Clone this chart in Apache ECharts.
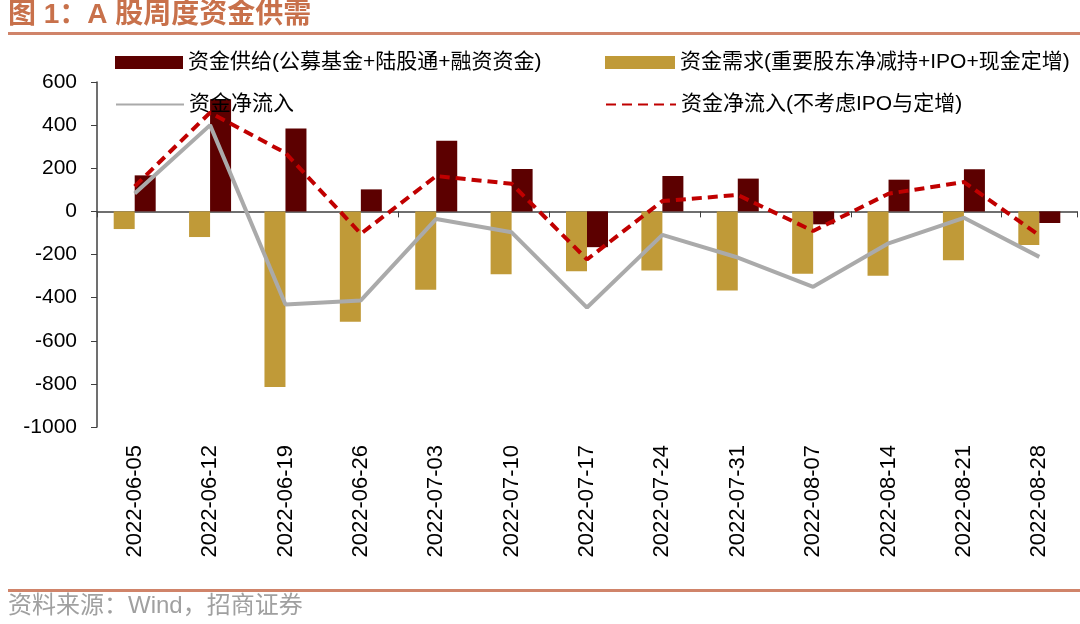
<!DOCTYPE html>
<html lang="zh">
<head>
    <meta charset="UTF-8">
    <title>A股周度资金供需</title>
    <script src="https://cdn.jsdelivr.net/npm/echarts@6/dist/echarts.min.js"></script>
    <style>
        html, body { margin: 0; padding: 0; background: #fff; }
    </style>
</head>
<body>
    <div id="main" style="width: 1080px;height:624px;"></div>
    <script type="text/javascript">
        // 数据（从原图读取，单位：亿元）
        var dates = ['2022-06-05', '2022-06-12', '2022-06-19', '2022-06-26', '2022-07-03', '2022-07-10', '2022-07-17',
            '2022-07-24', '2022-07-31', '2022-08-07', '2022-08-14', '2022-08-21', '2022-08-28'];
        var supply = [167, 520, 384, 102, 328, 196, -166, 164, 152, -60, 147, 195, -54];
        var demand = [-82, -119, -815, -512, -363, -292, -278, -274, -367, -289, -298, -227, -156];
        var netFlow = [83, 400, -432, -413, -35, -97, -446, -109, -214, -350, -148, -30, -211];
        var netFlowExcl = [116, 458, 271, -104, 164, 128, -223, 48, 76, -91, 82, 136, -111];

        var names = ['资金供给(公募基金+陆股通+融资资金)', '资金需求(重要股东净减持+IPO+现金定增)',
            '资金净流入', '资金净流入(不考虑IPO与定增)'];

        var FONT = '"Liberation Sans", "Noto Sans CJK SC", sans-serif';
        var legendText = { color: '#000', fontSize: 21, fontFamily: FONT };

        var myChart = echarts.init(document.getElementById('main'));

        var option = {
            backgroundColor: '#fff',
            animation: false,
            graphic: [
                {
                    type: 'text', left: 8, top: 1,
                    style: { text: '图 1：A 股周度资金供需', fill: '#c8714b', font: 'bold 28px ' + FONT }
                },
                {
                    type: 'rect', left: 8, top: 32,
                    shape: { width: 1072, height: 3 },
                    style: { fill: '#d0846a' }
                },
                {
                    type: 'rect', left: 8, top: 589,
                    shape: { width: 1072, height: 3 },
                    style: { fill: '#d0846a' }
                },
                {
                    type: 'text', left: 8, top: 594,
                    style: { text: '资料来源：Wind，招商证券', fill: '#a0a0a0', font: '24px ' + FONT }
                }
            ],
            legend: [
                { data: [names[0]], icon: 'rect', left: 110, top: 47, itemWidth: 68, itemHeight: 13, textStyle: legendText },
                { data: [names[1]], icon: 'rect', left: 600, top: 47, itemWidth: 70, itemHeight: 13, textStyle: legendText },
                { data: [names[2]], left: 110, top: 89, itemWidth: 68, itemHeight: 14, itemStyle: { opacity: 0 }, textStyle: legendText },
                { data: [names[3]], left: 600, top: 89, itemWidth: 70, itemHeight: 14, itemStyle: { opacity: 0 }, textStyle: legendText }
            ],
            grid: { left: 97, right: 3, top: 82, bottom: 197, containLabel: false },
            xAxis: [
                {
                    type: 'category',
                    data: dates,
                    axisLine: { onZero: true, lineStyle: { color: '#404040', width: 1.5 } },
                    axisTick: { show: true, inside: false, length: 6, lineStyle: { color: '#404040' } },
                    axisLabel: { show: false }
                },
                {
                    type: 'category',
                    data: dates,
                    position: 'bottom',
                    axisLine: { show: false, onZero: false },
                    axisTick: { show: false },
                    axisLabel: { rotate: 90, margin: 18, fontSize: 22, color: '#000', fontFamily: FONT }
                }
            ],
            yAxis: {
                type: 'value',
                min: -1000,
                max: 600,
                interval: 200,
                axisLine: { show: true, lineStyle: { color: '#404040', width: 1.5 } },
                axisTick: { show: true, length: 6, lineStyle: { color: '#404040' } },
                axisLabel: {
                    fontSize: 21, color: '#000', margin: 20, fontFamily: FONT,
                    formatter: function (v) { return String(v); }
                },
                splitLine: { show: false }
            },
            series: [
                {
                    name: names[1],
                    type: 'bar',
                    data: demand,
                    barWidth: 21,
                    barGap: '0%',
                    itemStyle: { color: '#c09a38' }
                },
                {
                    name: names[0],
                    type: 'bar',
                    data: supply,
                    barWidth: 21,
                    barGap: '0%',
                    itemStyle: { color: '#5c0000' }
                },
                {
                    name: names[2],
                    type: 'line',
                    data: netFlow,
                    symbol: 'none',
                    lineStyle: { color: '#aaaaaa', width: 4 },
                    itemStyle: { color: '#aaaaaa' },
                    z: 3
                },
                {
                    name: names[3],
                    type: 'line',
                    data: netFlowExcl,
                    symbol: 'none',
                    lineStyle: { color: '#c00000', width: 4, type: [10, 6] },
                    itemStyle: { color: '#c00000' },
                    z: 4
                }
            ]
        };

        myChart.setOption(option);
    </script>
</body>
</html>
